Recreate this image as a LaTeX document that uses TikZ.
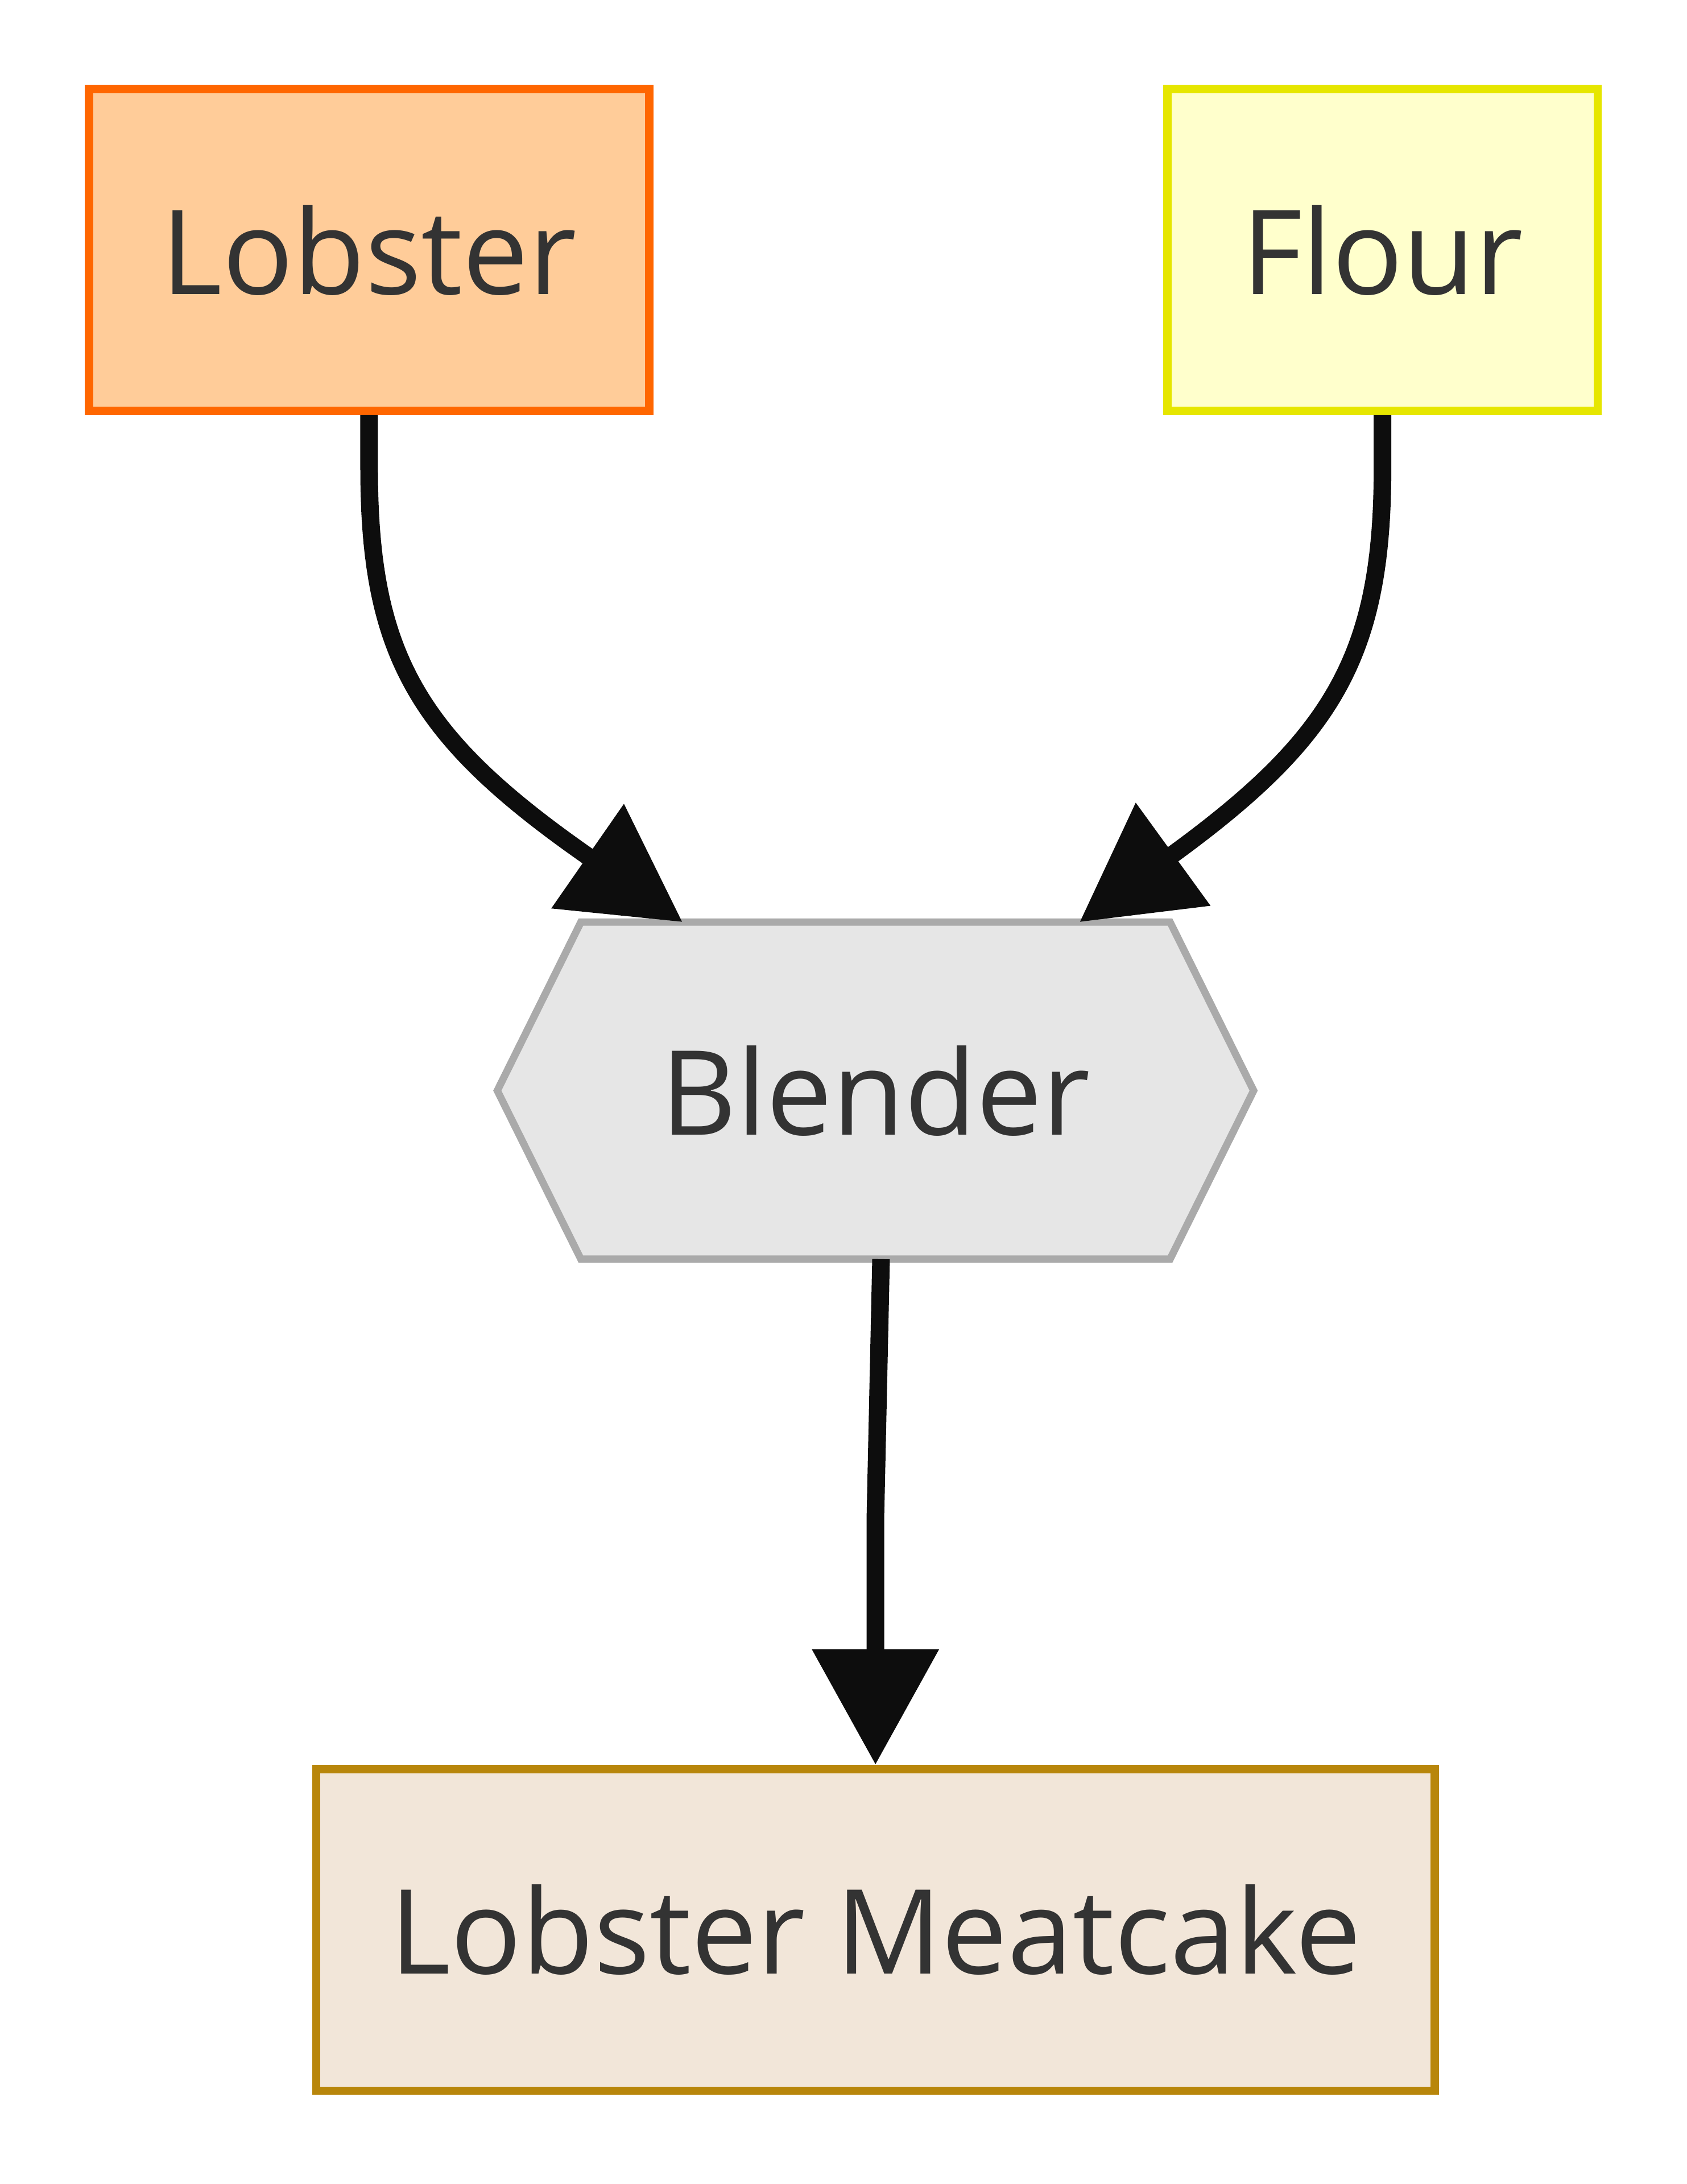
\documentclass[tikz,border=0pt]{standalone}
\usepackage{fontspec}
\setmainfont{Open Sans}
\usetikzlibrary{arrows.meta,backgrounds}
\definecolor{txt}{HTML}{333333}
\definecolor{lobfill}{HTML}{FFCC99}
\definecolor{lobline}{HTML}{FF6600}
\definecolor{flofill}{HTML}{FFFFCC}
\definecolor{floline}{HTML}{E6E600}
\definecolor{blefill}{HTML}{E6E6E6}
\definecolor{bleline}{HTML}{AAAAAA}
\definecolor{cakefill}{HTML}{F2E6D9}
\definecolor{cakeline}{HTML}{B8860B}
\definecolor{edge}{HTML}{0D0D0D}
\begin{document}
\begin{tikzpicture}[>={Triangle[length=8.3mm,width=8.8mm]},
box/.style={draw,line width=1.7pt,minimum height=2.31cm,inner sep=0pt,text=txt,font=\fontsize{24}{28}\selectfont},
flow/.style={->,line width=3.6pt,draw=edge}]
\useasboundingbox (0,0) rectangle (12.11,-15.68);
\node[box,fill=lobfill,draw=lobline,minimum width=4.02cm](lobster) at (2.65,-1.795){Lobster};
\node[box,fill=flofill,draw=floline,minimum width=3.09cm](flour) at (9.925,-1.795){Flour};
\node[box,draw=none,minimum width=5.37cm,minimum height=2.36cm](blender) at (6.285,-7.83){Blender};
\node[box,fill=cakefill,draw=cakeline,minimum width=8.03cm](cake) at (6.285,-13.855){Lobster Meatcake};
\begin{scope}[on background layer]
\draw[line width=1.5pt,draw=bleline,fill=blefill](blender.west)--([xshift=.6cm]blender.north west)--([xshift=-.6cm]blender.north east)--(blender.east)--([xshift=-.6cm]blender.south east)--([xshift=.6cm]blender.south west)--cycle;
\end{scope}
\draw[flow](lobster.south)--++(0,-.38) .. controls +(0,-1.35) and (3.0,-5.3) .. ([xshift=-1.385cm]blender.north);
\draw[flow](flour.south)--++(0,-.38) .. controls +(0,-1.35) and (9.57,-5.3) .. ([xshift=1.465cm]blender.north);
\draw[flow]([xshift=.4mm]blender.south)--([yshift=1.8cm]cake.north)--(cake.north);
\end{tikzpicture}
\end{document}
